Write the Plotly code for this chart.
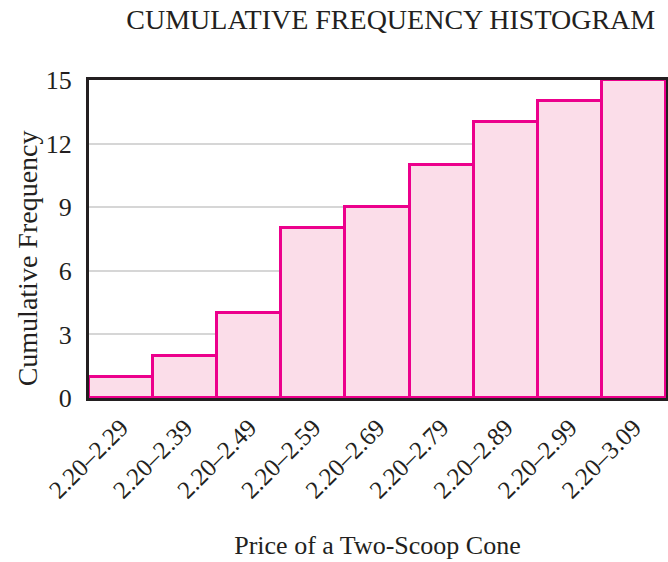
import plotly.graph_objects as go

categories = ["2.20–2.29", "2.20–2.39", "2.20–2.49", "2.20–2.59", "2.20–2.69",
              "2.20–2.79", "2.20–2.89", "2.20–2.99", "2.20–3.09"]
cum_freq = [1, 2, 4, 8, 9, 11, 13, 14, 15]
y_ticks = [0, 3, 6, 9, 12, 15]

FONT = "Liberation Serif, Times New Roman, serif"
TXT = "#231f20"

fig = go.Figure(go.Bar(
    x=categories, y=cum_freq,
    marker=dict(color="#fbdde9", line=dict(color="#ec008c", width=3)),
    width=1.0,
))

fig.update_layout(
    width=668, height=562,
    margin=dict(l=89, r=2, t=80, b=164),
    paper_bgcolor="white", plot_bgcolor="white",
    bargap=0,
    showlegend=False,
    font=dict(family=FONT, color=TXT),
    title=dict(text="CUMULATIVE FREQUENCY HISTOGRAM", x=0.585, xanchor="center",
               y=0.965, yanchor="middle", font=dict(size=28, family=FONT, color=TXT)),
    annotations=[dict(
        text="Cumulative Frequency", textangle=-90,
        xref="paper", yref="paper", x=-0.107, y=0.44,
        xanchor="center", yanchor="middle", showarrow=False,
        font=dict(size=28, family=FONT, color=TXT),
    )],
)
fig.update_xaxes(
    automargin=False,
    showline=True, linecolor=TXT, linewidth=3, mirror=True,
    showgrid=False, tickangle=-45,
    tickfont=dict(size=25, family=FONT, color=TXT),
    ticks="outside", ticklen=2, tickcolor="rgba(0,0,0,0)",
    title=dict(text="Price of a Two-Scoop Cone", font=dict(size=26, family=FONT, color=TXT), standoff=34),
    range=[-0.5, 8.5],
)
fig.update_yaxes(
    automargin=False,
    range=[0, 15], tickvals=y_ticks,
    showline=True, linecolor=TXT, linewidth=3, mirror=True,
    showgrid=True, gridcolor="#d6d6d6", gridwidth=1.5,
    zeroline=False,
    tickfont=dict(size=26, family=FONT, color=TXT),
    ticks="outside", ticklen=9, tickcolor="rgba(0,0,0,0)",
)

fig.write_html("out.html", config={"displayModeBar": False},
               post_script="document.body.style.margin='0';document.body.style.overflow='hidden';")
